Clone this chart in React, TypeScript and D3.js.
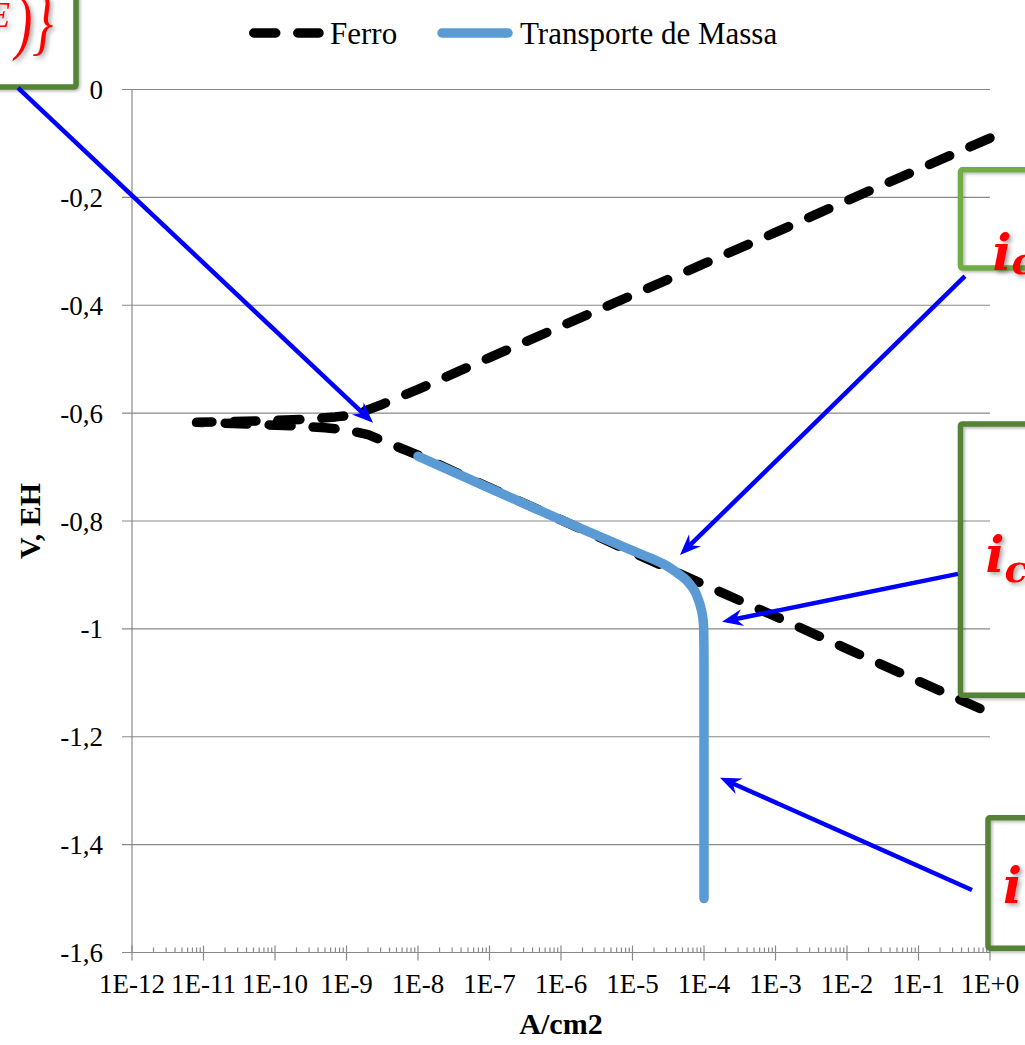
import React from "react";
import * as d3 from "d3";

// Polarization curves: current density (A/cm2, log) vs potential (V, EH)
const ferroCurrent = [
  1, 1e-1, 1e-2, 1e-3, 1e-4, 1e-5, 1e-6, 1e-7, 1e-8, 3e-9, 1.3e-9, 7e-10, 3e-10,
  8e-11, 8e-12, 6e-11, 2e-10, 5e-10, 1e-9, 2e-9, 1e-8, 1e-7, 1e-6, 1e-5, 1e-4,
  1e-3, 1e-2, 1e-1, 1,
];
const ferroPotential = [
  -0.09, -0.148, -0.206, -0.265, -0.323, -0.381, -0.439, -0.497, -0.556, -0.585,
  -0.603, -0.607, -0.611, -0.614, -0.617, -0.621, -0.624, -0.627, -0.631, -0.64,
  -0.678, -0.738, -0.798, -0.858, -0.918, -0.977, -1.037, -1.097, -1.156,
];

const massaCurrent = [
  1e-8, 1e-7, 1e-6, 3.5e-6, 1e-5, 1.8e-5, 3e-5, 4.2e-5, 5.5e-5, 6.5e-5, 7.5e-5,
  8.3e-5, 9e-5, 9.6e-5, 9.9e-5, 1e-4, 1e-4,
];
const massaPotential = [
  -0.68, -0.739, -0.798, -0.829, -0.855, -0.869, -0.883, -0.896, -0.908, -0.919,
  -0.931, -0.945, -0.96, -0.978, -1.0, -1.06, -1.5,
];

const seriesNames = ["Ferro", "Transporte de Massa"];

const xTickValues = [1e-12, 1e-11, 1e-10, 1e-9, 1e-8, 1e-7, 1e-6, 1e-5, 1e-4, 1e-3, 1e-2, 1e-1, 1];
const xTickLabels = ["1E-12", "1E-11", "1E-10", "1E-9", "1E-8", "1E-7", "1E-6", "1E-5", "1E-4", "1E-3", "1E-2", "1E-1", "1E+0"];
const yTickValues = [0, -0.2, -0.4, -0.6, -0.8, -1, -1.2, -1.4, -1.6];
const yTickLabels = ["0", "-0,2", "-0,4", "-0,6", "-0,8", "-1", "-1,2", "-1,4", "-1,6"];

// Callout arrows: [start current, start potential, tip current, tip potential]
const arrowStartCurrent = [10 ** -13.594, 10 ** -0.35, 10 ** -0.448, 10 ** -0.252];
const arrowStartPotential = [0.003, -0.346, -0.898, -1.484];
const arrowTipCurrent = [10 ** -8.629, 10 ** -4.336, 10 ** -3.748, 10 ** -3.776];
const arrowTipPotential = [-0.618, -0.863, -0.987, -1.276];

// Callout boxes (log10 current range and potential range)
const boxLogLeft = [-13.986, -0.413, -0.413, -0.028];
const boxLogRight = [-12.783, 0.699, 0.699, 0.699];
const boxTop = [0.1845, -0.149, -0.62, -1.35];
const boxBottom = [0.0046, -0.331, -1.123, -1.592];

const W = 1025;
const H = 1045;
const SERIF = "'Liberation Serif', 'Times New Roman', serif";
const MATH = "'DejaVu Serif', serif";

export default function App() {
  const x = d3.scaleLog().domain([1e-12, 1]).range([132, 990]);
  const y = d3.scaleLinear().domain([-1.6, 0]).range([952.5, 89.5]);

  const ferroPts: [number, number][] = ferroCurrent.map((c, i) => [x(c), y(ferroPotential[i])]);
  const massaPts: [number, number][] = massaCurrent.map((c, i) => [x(c), y(massaPotential[i])]);

  const linear = d3.line();
  const smooth = d3.line().curve(d3.curveMonotoneY);

  const minorTicks: number[] = [];
  for (let e = -12; e < 0; e++) {
    for (let m = 2; m <= 9; m++) minorTicks.push(m * 10 ** e);
  }

  const [x0, x1] = x.range();
  const [yb, yt] = y.range();

  const arrows = arrowStartCurrent.map((sc, i) => {
    const sx = x(sc);
    const sy = y(arrowStartPotential[i]);
    const tx = x(arrowTipCurrent[i]);
    const ty = y(arrowTipPotential[i]);
    const len = Math.hypot(tx - sx, ty - sy);
    const ux = (tx - sx) / len;
    const uy = (ty - sy) / len;
    const nx = -uy;
    const ny = ux;
    const L = 21;
    const hw = 8.5;
    const notch = 14;
    const head = [
      [tx, ty],
      [tx - L * ux + hw * nx, ty - L * uy + hw * ny],
      [tx - notch * ux, ty - notch * uy],
      [tx - L * ux - hw * nx, ty - L * uy - hw * ny],
    ];
    return {
      line: [sx, sy, tx - notch * ux, ty - notch * uy],
      head: head.map((p) => p.join(",")).join(" "),
    };
  });

  const boxes = boxLogLeft.map((l, i) => {
    const bx0 = x(10 ** l);
    const bx1 = x(10 ** boxLogRight[i]);
    const by0 = y(boxTop[i]);
    const by1 = y(boxBottom[i]);
    return { x: bx0, y: by0, w: bx1 - bx0, h: by1 - by0 };
  });
  const boxColors = ["#548235", "#70AD47", "#548235", "#548235"];

  return (
    <svg
      width={W}
      height={H}
      viewBox={`0 0 ${W} ${H}`}
      style={{ position: "absolute", left: 0, top: 0, background: "#fff" }}
    >
      <defs>
        <filter id="txtShadow" x="-30%" y="-30%" width="160%" height="160%">
          <feDropShadow dx="2.5" dy="2.5" stdDeviation="2" floodColor="#000" floodOpacity="0.35" />
        </filter>
        <filter id="boxShadow" x="-10%" y="-10%" width="120%" height="120%">
          <feDropShadow dx="1.5" dy="1.5" stdDeviation="1.5" floodColor="#000" floodOpacity="0.3" />
        </filter>
      </defs>

      {/* gridlines */}
      {yTickValues.map((v, i) => (
        <line key={"g" + i} x1={x0 - 10} x2={x1} y1={y(v)} y2={y(v)} stroke="#898989" strokeWidth={1.2} />
      ))}
      {/* y axis line */}
      <line x1={x0} x2={x0} y1={yt} y2={yb} stroke="#898989" strokeWidth={1.2} />
      {/* x axis ticks */}
      {xTickValues.map((v, i) => (
        <line key={"xt" + i} x1={x(v)} x2={x(v)} y1={yb - 7} y2={yb + 8} stroke="#898989" strokeWidth={1.2} />
      ))}
      {minorTicks.map((v, i) => (
        <line key={"mt" + i} x1={x(v)} x2={x(v)} y1={yb - 5} y2={yb} stroke="#898989" strokeWidth={1.2} />
      ))}

      {/* tick labels */}
      {yTickValues.map((v, i) => (
        <text key={"yl" + i} x={103} y={y(v) + 9.5} textAnchor="end" fontFamily={SERIF} fontSize={27} fill="#000">
          {yTickLabels[i]}
        </text>
      ))}
      {xTickValues.map((v, i) => (
        <text key={"xl" + i} x={x(v)} y={993} textAnchor="middle" fontFamily={SERIF} fontSize={27} fill="#000">
          {xTickLabels[i]}
        </text>
      ))}

      {/* axis titles */}
      <text x={(x0 + x1) / 2} y={1034} textAnchor="middle" fontFamily={SERIF} fontSize={30} fontWeight="bold">
        A/cm2
      </text>
      <text
        transform={`translate(40, ${(yt + yb) / 2}) rotate(-90)`}
        textAnchor="middle"
        fontFamily={SERIF}
        fontSize={30}
        fontWeight="bold"
      >
        V, EH
      </text>

      {/* series */}
      <path
        d={linear(ferroPts) || ""}
        fill="none"
        stroke="#000"
        strokeWidth={9.5}
        strokeDasharray="22 22"
        strokeLinecap="round"
        strokeLinejoin="round"
      />
      <path
        d={smooth(massaPts) || ""}
        fill="none"
        stroke="#5B9BD5"
        strokeWidth={9.5}
        strokeLinecap="round"
        strokeLinejoin="round"
      />

      {/* legend */}
      <line x1={253.75} x2={319} y1={33} y2={33} stroke="#000" strokeWidth={9.5} strokeDasharray="22 22" strokeLinecap="round" />
      <text x={330} y={43.5} fontFamily={SERIF} fontSize={31}>
        {seriesNames[0]}
      </text>
      <line x1={442} x2={508} y1={33} y2={33} stroke="#5B9BD5" strokeWidth={9.5} strokeLinecap="round" />
      <text x={520} y={43.5} fontFamily={SERIF} fontSize={31}>
        {seriesNames[1]}
      </text>

      {/* callout boxes */}
      {boxes.map((b, i) => (
        <rect
          key={"b" + i}
          x={b.x}
          y={b.y}
          width={b.w}
          height={b.h}
          fill="none"
          stroke={boxColors[i]}
          strokeWidth={5.5}
          rx={2}
          filter="url(#boxShadow)"
        />
      ))}

      {/* callout texts */}
      <g fill="#FF0000" filter="url(#txtShadow)">
        <text x={10} y={27} textAnchor="end" fontFamily={SERIF} fontStyle="italic" fontSize={36}>
          E
        </text>
        <text
          transform="translate(53, 46) scale(0.72, 1)"
          textAnchor="end"
          fontFamily={SERIF}
          fontStyle="italic"
          fontSize={72}
        >
          {")}"}
        </text>
        <text x={boxes[1].x + 32} y={270} fontFamily={MATH} fontStyle="italic" fontWeight="bold" fontSize={50}>
          i
          <tspan fontSize={38} dy={4}>c</tspan>
        </text>
        <text x={boxes[2].x + 25} y={572} fontFamily={MATH} fontStyle="italic" fontWeight="bold" fontSize={50}>
          i
          <tspan fontSize={38} dy={10}>c</tspan>
        </text>
        <text x={boxes[3].x + 15} y={903} fontFamily={MATH} fontStyle="italic" fontWeight="bold" fontSize={50}>
          i
        </text>
      </g>

      {/* callout arrows */}
      {arrows.map((a, i) => (
        <g key={"a" + i}>
          <line x1={a.line[0]} y1={a.line[1]} x2={a.line[2]} y2={a.line[3]} stroke="#0000FF" strokeWidth={4.5} />
          <polygon points={a.head} fill="#0000FF" />
        </g>
      ))}
    </svg>
  );
}
